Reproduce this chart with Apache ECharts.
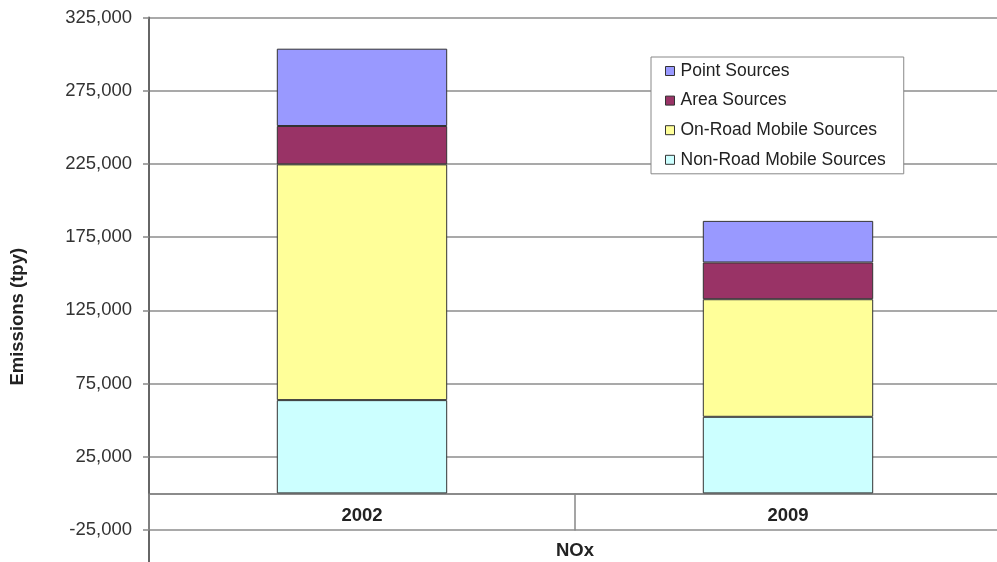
<!DOCTYPE html>
<html>
<head>
<meta charset="utf-8">
<style>
  html, body { margin: 0; padding: 0; background: #fff; }
  #chart { width: 997px; height: 562px; }
</style>
<script src="https://cdn.jsdelivr.net/npm/echarts@6/dist/echarts.min.js"></script>
</head>
<body>
<div id="chart"></div>
<script>
// NOx emissions by source category (tons per year)
const categories = ['2002', '2009'];
const nonRoadMobile = [63700, 52300];
const onRoadMobile = [161000, 80300];
const areaSources = [26200, 25100];
const pointSources = [52800, 28400];

const yMin = -25000;
const yMax = 325000;
const yStep = 50000;

const FONT = 'Liberation Sans, Arial, sans-serif';
const GRID_LEFT = 149;

const chart = echarts.init(document.getElementById('chart'));

function barSeries(name, data, color) {
  return {
    name: name,
    type: 'bar',
    stack: 'nox',
    barWidth: '40%',
    data: data,
    itemStyle: { color: color, borderColor: '#333', borderWidth: 1 },
    emphasis: { disabled: true }
  };
}

chart.setOption({
  animation: false,
  backgroundColor: '#fff',
  grid: {
    left: GRID_LEFT, right: -4, top: 17.5, bottom: 32,
    containLabel: false,
    outerBoundsMode: 'none'
  },
  legend: {
    orient: 'vertical',
    left: 651,
    top: 57,
    padding: [5, 18, 5, 14],
    itemGap: 11.6,
    itemWidth: 9,
    itemHeight: 9,
    icon: 'rect',
    backgroundColor: '#fff',
    borderColor: '#888',
    borderWidth: 1,
    selectedMode: false,
    itemStyle: { borderColor: '#333', borderWidth: 1 },
    textStyle: { fontFamily: FONT, fontSize: 17.5, color: '#222', padding: [0, 0, 0, 1] },
    data: ['Point Sources', 'Area Sources', 'On-Road Mobile Sources', 'Non-Road Mobile Sources']
  },
  xAxis: {
    type: 'category',
    data: categories,
    name: 'NOx',
    nameLocation: 'middle',
    // labels and name are laid out from the bottom edge of the grid
    nameGap: 11,
    nameTextStyle: { fontFamily: FONT, fontSize: 18.5, fontWeight: 'bold', color: '#222' },
    axisLine: { onZero: true, lineStyle: { color: '#666', width: 1.5 } },
    axisTick: { show: true, alignWithLabel: false, interval: 0, length: 37, lineStyle: { color: '#888', width: 1.5 } },
    axisLabel: { margin: -24, fontFamily: FONT, fontSize: 18.5, fontWeight: 'bold', color: '#222' },
    splitLine: { show: false }
  },
  yAxis: {
    type: 'value',
    min: yMin,
    max: yMax,
    interval: yStep,
    name: 'Emissions (tpy)',
    nameLocation: 'middle',
    nameGap: 122,
    nameTextStyle: { fontFamily: FONT, fontSize: 18.5, fontWeight: 'bold', color: '#222', padding: [0, 86, 0, 0] },
    axisLine: { show: true, lineStyle: { color: '#666', width: 2 } },
    axisTick: { show: true, length: 6, lineStyle: { color: '#888', width: 1.5 } },
    axisLabel: {
      margin: 17,
      fontFamily: FONT,
      fontSize: 18.5,
      color: '#333',
      formatter: function (v) { return v.toLocaleString('en-US'); }
    },
    splitLine: { show: true, lineStyle: { color: '#8c8c8c', width: 1.5 } }
  },
  series: [
    barSeries('Non-Road Mobile Sources', nonRoadMobile, '#CCFFFF'),
    barSeries('On-Road Mobile Sources', onRoadMobile, '#FFFF99'),
    barSeries('Area Sources', areaSources, '#993366'),
    barSeries('Point Sources', pointSources, '#9999FF')
  ]
});

// Extend the value axis line down through the category label band
const bottomY = chart.convertToPixel({ yAxisIndex: 0 }, yMin);
chart.setOption({
  graphic: [{
    type: 'line',
    shape: { x1: GRID_LEFT, y1: bottomY, x2: GRID_LEFT, y2: 562 },
    style: { stroke: '#666', lineWidth: 2 },
    silent: true
  }]
});
</script>
</body>
</html>
